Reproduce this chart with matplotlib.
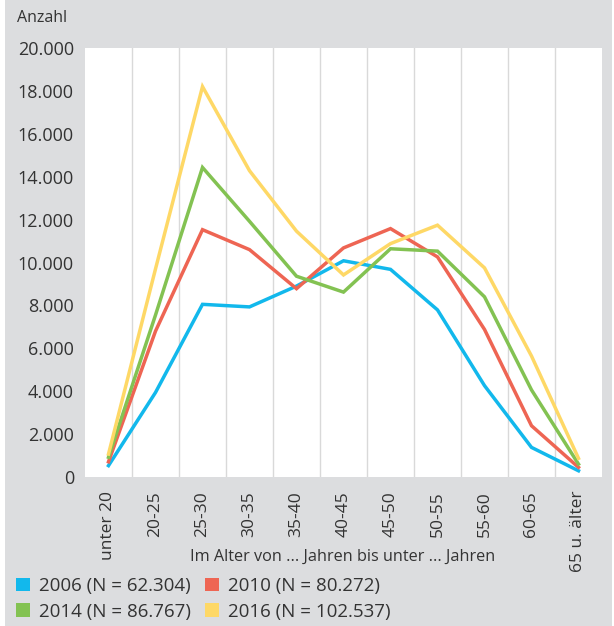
import matplotlib.pyplot as plt
from matplotlib.patches import Patch, Rectangle
from matplotlib.ticker import FuncFormatter

plt.rcParams['font.family'] = ['Open Sans', 'DejaVu Sans']

# Age groups and counts per survey year
age_groups = ['unter 20', '20-25', '25-30', '30-35', '35-40', '40-45',
              '45-50', '50-55', '55-60', '60-65', '65 u. älter']
years = ['2006', '2010', '2014', '2016']
totals = ['62.304', '80.272', '86.767', '102.537']

counts_2006 = [530, 3940, 8050, 7930, 8900, 10080, 9680, 7790, 4260, 1380, 290]
counts_2010 = [710, 6800, 11530, 10600, 8780, 10680, 11580, 10260, 6880, 2390, 450]
counts_2014 = [920, 7550, 14430, 11920, 9360, 8620, 10640, 10530, 8400, 4060, 600]
counts_2016 = [1070, 9700, 18200, 14280, 11460, 9420, 10880, 11740, 9750, 5640, 870]

series = [counts_2006, counts_2010, counts_2014, counts_2016]
colors = ['#12B8EC', '#EE6553', '#83C252', '#FED866']

bg = '#DCDDDF'
txt = '#333333'

fig = plt.figure(figsize=(6.14, 6.26), dpi=100, facecolor='white')
fig.patches.append(Rectangle((5 / 614, 0), 607 / 614, 1, transform=fig.transFigure,
                             facecolor=bg, edgecolor='none', zorder=-10))

ax = fig.add_axes([85 / 614, 1 - 477 / 626, 517 / 614, 429 / 626])
ax.set_facecolor('white')

x = list(range(len(age_groups)))
for vals, col in zip(series, colors):
    ax.plot(x, vals, color=col, linewidth=2.5, solid_joinstyle='miter')

ax.set_xlim(-0.5, len(age_groups) - 0.5)
ax.set_ylim(0, 20000)
ax.set_yticks(range(0, 20001, 2000))
ax.yaxis.set_major_formatter(FuncFormatter(lambda v, p: f'{int(v):,}'.replace(',', '.')))
ax.set_xticks(x)
ax.set_xticklabels(age_groups, rotation=90, va='top')

# vertical separators between the age groups
for b in range(1, len(age_groups)):
    ax.axvline(b - 0.5, color='#D9D9D9', linewidth=1, zorder=0)

for s in ax.spines.values():
    s.set_visible(False)
ax.tick_params(length=0, labelsize=12.5, colors=txt)
ax.tick_params(axis='y', labelsize=13, pad=8)
ax.tick_params(axis='x', pad=10)

fig.text(17 / 614, 1 - 18 / 626, 'Anzahl', fontsize=11.5, color=txt, va='center')
fig.text(343 / 614, 1 - 557 / 626, 'Im Alter von ... Jahren bis unter ... Jahren',
         fontsize=11.7, color=txt, ha='center', va='center')

labels = [f'{y} (N = {n})' for y, n in zip(years, totals)]
handles = [Patch(facecolor=c, edgecolor='none') for c in colors]
order = [0, 2, 1, 3]
fig.legend([handles[i] for i in order], [labels[i] for i in order],
           ncol=2, loc='upper left', bbox_to_anchor=(16 / 614, 1 - 577 / 626),
           frameon=False, fontsize=13.5, handlelength=0.75, handleheight=0.75,
           handletextpad=0.5, columnspacing=0.7, labelspacing=0.4,
           borderaxespad=0, borderpad=0, labelcolor=txt)

plt.savefig('out.png', dpi=100, facecolor=fig.get_facecolor())
plt.close()
